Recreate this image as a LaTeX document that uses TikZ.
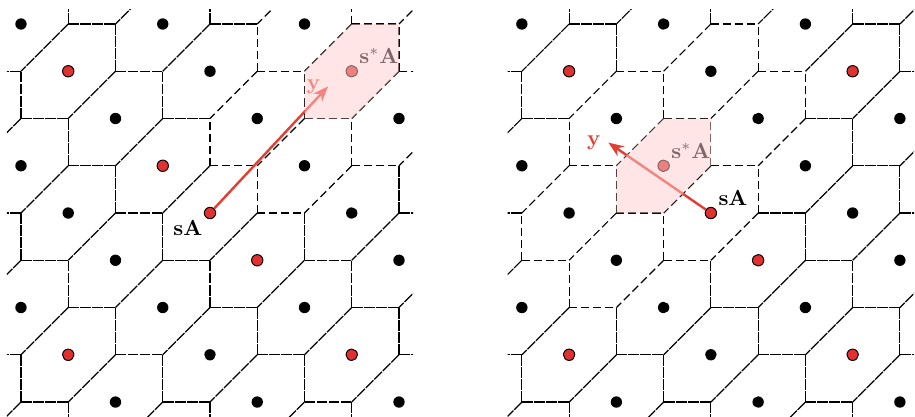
\documentclass[tikz,border=0pt]{standalone}
\usepackage{amsmath}
\usetikzlibrary{arrows.meta}
\definecolor{latred}{RGB}{224,48,48}
\definecolor{vecred}{RGB}{228,62,50}
\tikzset{
  wall/.style={line width=0.55pt, dash pattern=on 5pt off 0.5pt},
  openwall/.style={line width=0.55pt, dash pattern=on 3.7pt off 1.8pt},
  pt/.style={circle, fill=black, inner sep=0pt, minimum size=5.2pt},
  redpt/.style={pt, draw=black, line width=0.45pt, fill=latred},
  cellfill/.style={fill=red!20, fill opacity=0.5},
  vec/.style={-{Stealth[length=7pt, width=5.4pt]}, vecred, line width=1.1pt},
}

% one wall of the tiling: ends (#1,#2)--(#3,#4), cells on its two sides (#5,#6) and (#7,#8)
\newcommand\hexedge[8]{%
  \pgfmathtruncatemacro\isopen{(hexd(#5-\cx,#6-\cy)<4) || (hexd(#7-\cx,#8-\cy)<4)}%
  \ifnum\isopen=1
    \draw[openwall] (#1,#2) -- (#3,#4);
  \else
    \draw[wall] (#1,#2) -- (#3,#4);
  \fi}

\begin{document}
\begin{tikzpicture}[x=0.76cm, y=-0.76cm,
  declare function={hexd(\p,\q)=max(abs(\p+2*\q),abs(\p-\q),abs(2*\p+\q));}]
  \useasboundingbox (-0.444,-0.508) rectangle (18.92,8.296);

  \foreach \ox/\cx/\cy/\tx/\ty/\sanc/\nm in {0/7/1/6.5/1.32/north east/L, 10.6/3/3/1.83/2.51/south west/R}{
    \begin{scope}[shift={(\ox,0)}]
      % tiling
      \begin{scope}
        \clip (-0.3,-0.3) rectangle (8.3,8.3);
        \foreach \i in {-1,...,9}
          \foreach \j in {-1,...,9}{
            \pgfmathtruncatemacro\k{mod(\i-\j+30,3)}
            \ifnum\k=1
              \hexedge{\i}{\j}{\i+1}{\j}{\i}{\j+1}{\i+1}{\j-1}
              \hexedge{\i}{\j}{\i}{\j-1}{\i-1}{\j}{\i+1}{\j-1}
              \hexedge{\i}{\j}{\i-1}{\j+1}{\i}{\j+1}{\i-1}{\j}
            \fi
          }
      \end{scope}

      % lattice points
      \foreach \i in {0,...,8}
        \foreach \j in {0,...,8}{
          \pgfmathtruncatemacro\k{mod(\i-\j+30,3)}
          \pgfmathtruncatemacro\isred{(\i+\j==8) || (\i==\j && mod(\i,2)==1)}
          \ifnum\k=0
            \ifnum\isred=1
              \node[redpt] (\nm-\i-\j) at (\i,\j) {};
            \else
              \node[pt] (\nm-\i-\j) at (\i,\j) {};
            \fi
          \fi
        }

      % target vector and labels
      \coordinate (\nm-y) at (\tx,\ty);
      \draw[vec] (\nm-4-4) -- (\nm-y);
      \node[left, text=vecred] (\nm-ylab) at (\nm-y) {$\mathbf{y}$};
      \node[anchor=\sanc] (\nm-sA) at (\nm-4-4) {$\mathbf{sA}$};
      \node[above right] (\nm-sstar) at (\nm-\cx-\cy) {$\mathbf{s}^*\mathbf{A}$};

      % cell of s*A
      \fill[cellfill] (\cx,\cy-1) -- ++(1,0) -- ++(0,1) -- ++(-1,1) -- ++(-1,0) -- ++(0,-1) -- cycle;
    \end{scope}
  }
\end{tikzpicture}
\end{document}
